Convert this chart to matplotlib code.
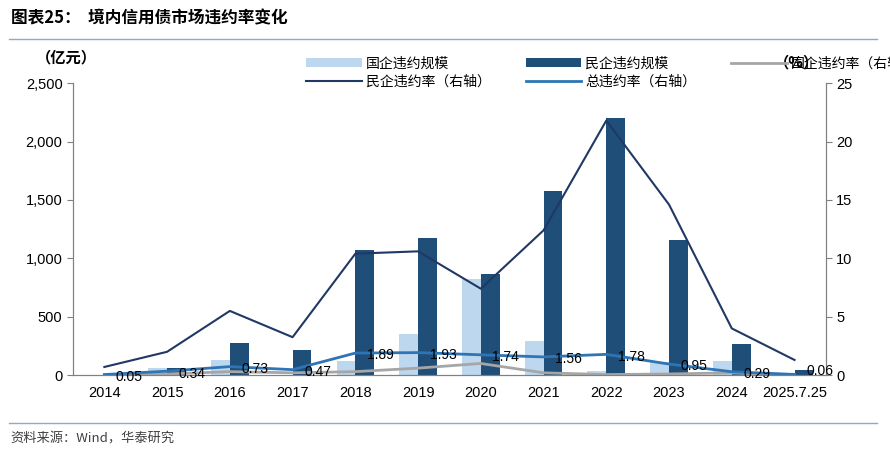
import matplotlib.pyplot as plt
import numpy as np

plt.rcParams["font.family"] = ["Noto Sans CJK SC"]

years = ["2014", "2015", "2016", "2017", "2018", "2019", "2020", "2021",
         "2022", "2023", "2024", "2025.7.25"]
soe_amt = [0, 60, 128, 0, 120, 350, 825, 290, 35, 110, 120, 0]
pri_amt = [0, 60, 275, 215, 1075, 1170, 870, 1580, 2200, 1155, 265, 45]
soe_rate = [0, 0.1, 0.3, 0.2, 0.3, 0.6, 1.0, 0.2, 0.05, 0.1, 0.2, 0.0]
pri_rate = [0.7, 2.0, 5.5, 3.25, 10.4, 10.6, 7.4, 12.4, 21.8, 14.6, 4.0, 1.3]
tot_rate = [0.05, 0.34, 0.73, 0.47, 1.89, 1.93, 1.74, 1.56, 1.78, 0.95, 0.29, 0.06]

LIGHT = "#BDD7EE"
DARK = "#1F4E79"
GREY = "#A6A6A6"
PRI_LINE = "#203864"
TOT_LINE = "#2E75B6"

fig = plt.figure(figsize=(8.9, 4.62), dpi=100)
ax = fig.add_axes([0.082, 0.188, 0.846, 0.632])
ax2 = ax.twinx()

x = np.arange(len(years))
w = 0.3
ax.bar(x - w / 2, soe_amt, w, color=LIGHT, label="国企违约规模")
ax.bar(x + w / 2, pri_amt, w, color=DARK, label="民企违约规模")
ax2.plot(x, soe_rate, color=GREY, lw=2, label="国企违约率（右轴）")
ax2.plot(x, pri_rate, color=PRI_LINE, lw=1.5, label="民企违约率（右轴）")
ax2.plot(x, tot_rate, color=TOT_LINE, lw=2, label="总违约率（右轴）")
for xi, v in zip(x, tot_rate):
    dy = 0.3 if xi == x[-1] else -0.2
    ax2.text(xi + 0.4, v + dy, f"{v:.2f}", fontsize=10, ha="center",
             va="center", family="Liberation Sans")

ax.set_xlim(-0.5, len(years) - 0.5)
ax.set_ylim(0, 2500)
ax2.set_ylim(0, 25)
ax.set_yticks(range(0, 2501, 500))
ax.set_yticklabels([f"{v:,}" for v in range(0, 2501, 500)])
ax2.set_yticks(range(0, 26, 5))
ax.set_xticks(x)
ax.set_xticklabels(years)
for a in (ax, ax2):
    a.spines["top"].set_visible(False)
    a.spines["left"].set_color("#808080")
    a.spines["right"].set_color("#808080")
    a.spines["bottom"].set_color("#808080")
    a.tick_params(labelsize=10.5, color="#808080", length=4)
    for lab in a.get_xticklabels() + a.get_yticklabels():
        lab.set_family("Liberation Sans")
ax.tick_params(axis="x", length=0, pad=8)

fig.text(0.04, 0.865, "（亿元）", fontsize=11, weight="bold")
fig.text(0.87, 0.855, "（%）", fontsize=11, weight="bold")

h1, l1 = ax.get_legend_handles_labels()
h2, l2 = ax2.get_legend_handles_labels()
hs = h1 + h2
ls = l1 + l2
order = [0, 3, 1, 4, 2]
fig.legend([hs[i] for i in order], [ls[i] for i in order], loc="upper left",
           bbox_to_anchor=(0.33, 0.905), ncol=3, frameon=False, fontsize=10,
           handlelength=4, columnspacing=2.5, handletextpad=0.3,
           labelspacing=0.3)

fig.text(0.012, 0.96, "图表25：  境内信用债市场违约率变化", fontsize=12,
         weight="bold", va="center")
fig.add_artist(plt.Line2D([0.01, 0.985], [0.915, 0.915], color="#8EA9C1", lw=1))
fig.add_artist(plt.Line2D([0.01, 0.985], [0.085, 0.085], color="#8EA9C1", lw=1))
fig.text(0.012, 0.05, "资料来源：Wind，华泰研究", fontsize=9.5, color="#404040",
         va="center")

fig.savefig("out.png", dpi=100)
